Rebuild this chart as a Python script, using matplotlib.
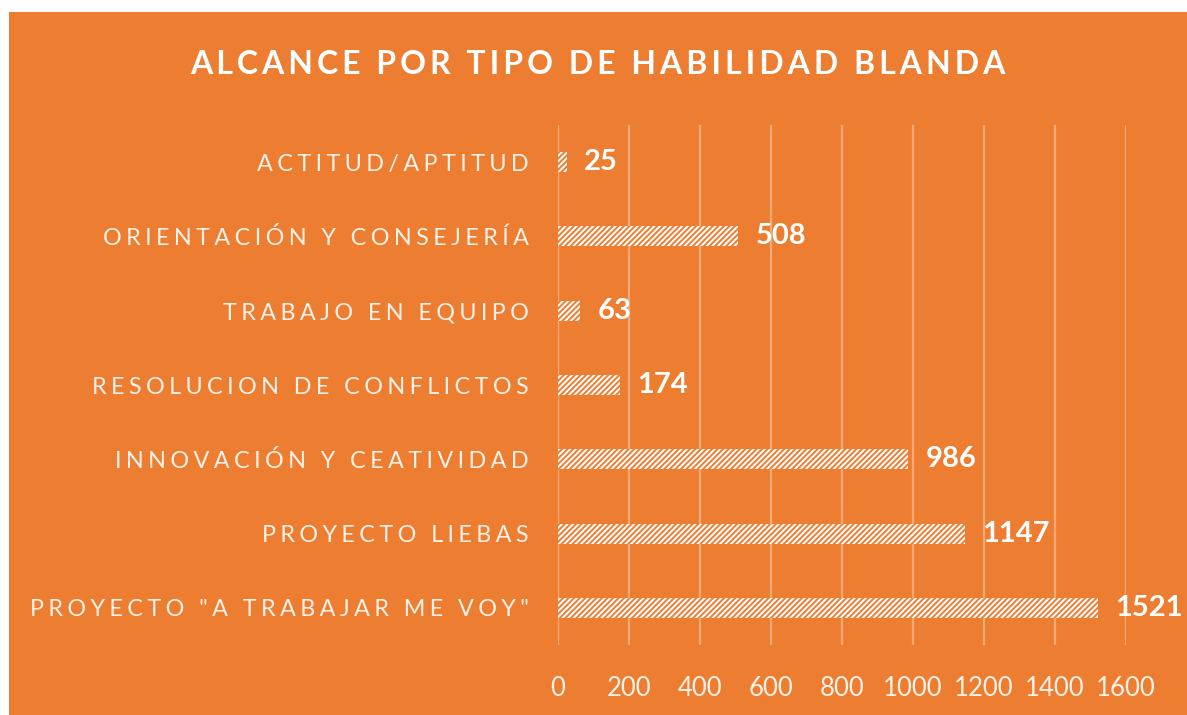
import matplotlib
matplotlib.use("Agg")
import matplotlib.pyplot as plt
from matplotlib.patches import Rectangle

categories = ['PROYECTO "A TRABAJAR ME VOY"', "PROYECTO LIEBAS", "INNOVACIÓN Y CEATIVIDAD",
              "RESOLUCION DE CONFLICTOS", "TRABAJO EN EQUIPO", "ORIENTACIÓN Y CONSEJERÍA",
              "ACTITUD/APTITUD"]
values = [1521, 1147, 986, 174, 63, 508, 25]
xticks = [0, 200, 400, 600, 800, 1000, 1200, 1400, 1600]
title = "ALCANCE POR TIPO DE HABILIDAD BLANDA"

ORANGE = "#ED7D31"
TXT = "#FDF1E8"
FAM = ["Lato", "DejaVu Sans"]

def spaced(s, sep="\u2009"):
    return sep.join(list(s))

W, H = 1187, 715
fig = plt.figure(figsize=(W / 100, H / 100), dpi=100, facecolor="white")
fig.patches.append(Rectangle((9 / W, 0), 1 - 9 / W, 1 - 12 / H, transform=fig.transFigure,
                             facecolor=ORANGE, edgecolor="none", zorder=-10))

ax = fig.add_axes([558 / W, 1 - 645 / H, 568 / W, 520 / H])
ax.set_facecolor("none")
ypos = list(range(len(categories)))
plt.rcParams["hatch.linewidth"] = 1.4
bars = ax.barh(ypos, values, height=0.27, color="white", edgecolor=ORANGE,
               hatch="//////", linewidth=0, zorder=3)
ax.set_xlim(0, 1600)
ax.set_ylim(-0.5, len(categories) - 0.5)
ax.set_xticks(xticks)
ax.set_xticklabels([str(t) for t in xticks], fontsize=18.5, color=TXT, family=FAM)
ax.set_yticks(ypos)
ax.set_yticklabels([spaced(c, "\u2009\u200a") for c in categories], fontsize=16.8,
                   color=TXT, family=FAM)
ax.tick_params(axis="x", length=0, pad=22)
ax.tick_params(axis="y", length=0, pad=21)
for s in ax.spines.values():
    s.set_visible(False)
ax.grid(axis="x", color="white", alpha=0.35, linewidth=1.6, zorder=1)
ax.grid(axis="y", visible=False)

for y, v in zip(ypos, values):
    ax.annotate(str(v), xy=(v, y), xytext=(12.5, 0), textcoords="offset points",
                ha="left", va="center", fontsize=21, fontweight="bold",
                color="white", family=FAM, zorder=4)

fig.text(598 / W, 1 - 64 / H, spaced(title, "\u2009"), ha="center", va="center",
         fontsize=23, fontweight="bold", color="white", family=FAM)

fig.savefig("out.png", dpi=100, facecolor="white")
